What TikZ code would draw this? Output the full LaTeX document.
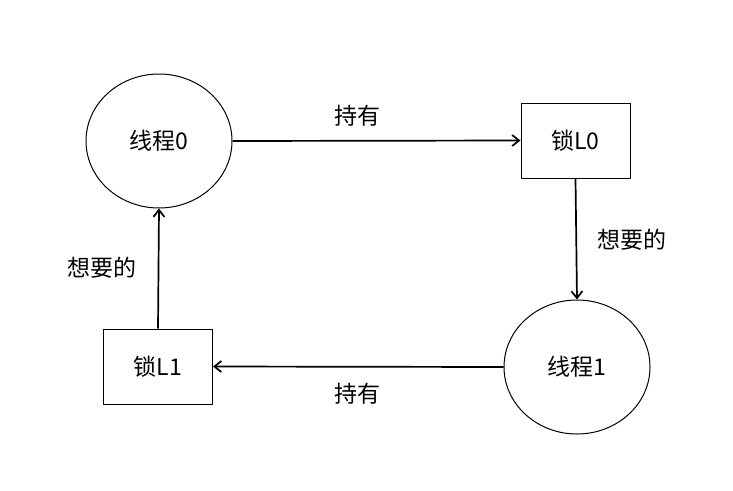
\documentclass[tikz,border=0pt]{standalone}
\usepackage{fontspec}
\setmainfont{Noto Sans CJK SC}
\usetikzlibrary{arrows.meta,shapes.geometric}

\newlength{\du}
\setlength{\du}{1pt}

\tikzset{
  thread/.style={draw, ellipse, line width=1\du, minimum width=146\du, minimum height=134\du, inner sep=0pt},
  lockbox/.style={draw, rectangle, line width=1\du, minimum width=109\du, minimum height=75\du, inner sep=0pt},
  link/.style={line width=1.7\du, -{Straight Barb[length=7pt,width=11pt]}},
  lbl/.style={font=\fontsize{23}{27}\selectfont}
}

\begin{document}
\begin{tikzpicture}[x=1\du,y=-1\du,font=\fontsize{23}{27}\selectfont]
\useasboundingbox (0,0) rectangle (733,490);
% threads
\node[thread] (t0) at (159,141) {线程0};
\node[thread] (t1) at (577,367) {线程1};
% locks
\node[lockbox] (l0) at (575.5,140.5) {锁L0};
\node[lockbox] (l1) at (158,366.5) {锁L1};
% was here!!!
\draw[link] (t0.east) -- (l0.west);
\draw[link] (l0.south) -- (t1.north);
\draw[link] (t1.west) -- (l1.east);
\draw[link] (l1.north) -- (t0.south);
% labels
\node[lbl] (h0) at (357,116) {持有};
\node[lbl] (w0) at (632,240) {想要的};
\node[lbl] (h1) at (357,394) {持有};
\node[lbl] (w1) at (102,268) {想要的};
\end{tikzpicture}
\end{document}
